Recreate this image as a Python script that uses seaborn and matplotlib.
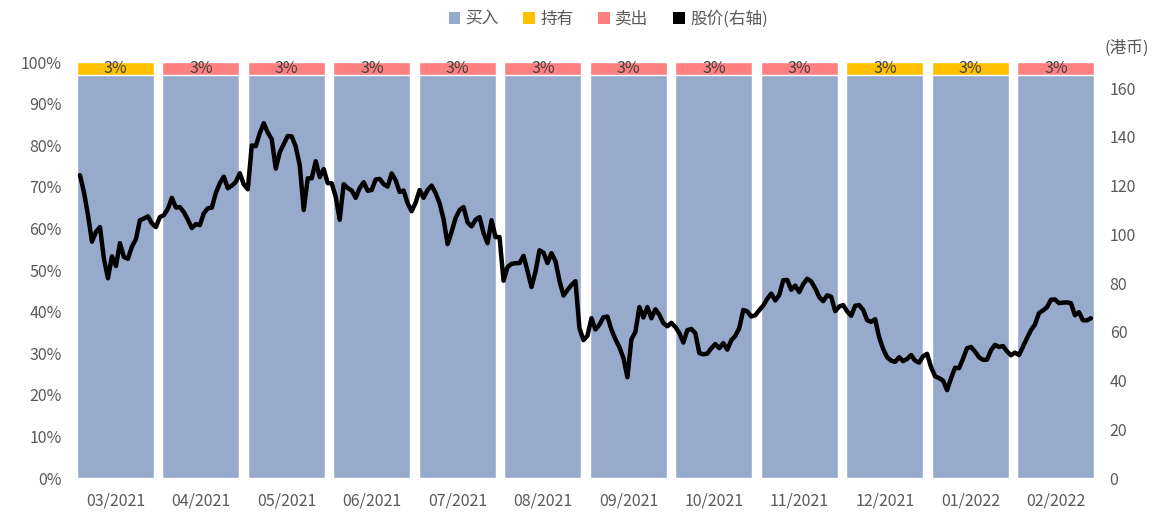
import numpy as np
import pandas as pd
import seaborn as sns
import matplotlib.pyplot as plt
from matplotlib.patches import Patch

# ======================================================
# DATA
# ======================================================
months = ['03/2021', '04/2021', '05/2021', '06/2021', '07/2021', '08/2021',
          '09/2021', '10/2021', '11/2021', '12/2021', '01/2022', '02/2022']
buy_pct = [0.97] * 12
other_pct = [0.03] * 12
other_type = ['持有', '卖出', '卖出', '卖出', '卖出', '卖出',
              '卖出', '卖出', '卖出', '持有', '持有', '卖出']

# daily close (HKD), 03/2021 -> 02/2022
price = [
    124.3, 117.3, 108.0, 97.0, 101.0, 103.0, 90.0, 82.0, 91.0, 87.0, 96.4,
    90.7, 90.0, 95.0, 98.0, 105.8, 106.5, 107.4, 104.5, 103.0, 107.1,
    107.9, 110.5, 115.0, 111.0, 111.2, 109.1, 106.0, 102.6, 104.2, 103.8,
    108.7, 110.7, 111.0, 117.0, 121.0, 123.7, 118.9, 120.0, 121.5, 125.1,
    120.5, 118.5, 136.5, 136.2, 141.5, 145.6, 141.8, 139.0, 127.0, 133.7,
    137.0, 140.4, 140.2, 136.0, 128.4, 110.0, 123.0, 123.0, 130.0, 123.5,
    126.8, 121.0, 121.0, 115.5, 106.0, 120.6, 119.0, 118.0, 115.0, 119.0,
    121.4, 117.9, 118.2, 122.5, 122.8, 120.6, 119.6, 125.0, 122.2, 117.4,
    118.0, 112.8, 109.5, 113.0, 118.2, 115.0, 118.2, 120.0, 117.0, 112.8,
    106.2, 96.0, 101.0, 106.7, 110.0, 111.2, 104.9, 103.3, 106.0, 107.1,
    100.6, 96.4, 105.8, 98.9, 98.9, 81.0, 86.6, 87.9, 88.2, 88.2,
    91.2, 85.0, 78.4, 84.7, 93.5, 92.5, 88.2, 92.3, 89.0, 81.0,
    74.9, 77.2, 79.2, 80.8, 61.5, 56.6, 58.4, 65.6, 61.0, 62.9,
    66.0, 66.3, 60.9, 57.0, 53.7, 49.3, 41.4, 56.9, 60.0, 70.2,
    65.9, 70.2, 65.6, 69.3, 67.0, 63.6, 62.3, 63.7, 62.0, 59.5,
    55.6, 60.7, 61.2, 59.5, 51.3, 50.8, 51.1, 53.3, 55.0, 53.3,
    55.4, 52.7, 56.6, 58.3, 61.6, 69.0, 68.4, 66.3, 66.8, 68.9,
    70.8, 73.6, 75.7, 72.9, 75.1, 81.2, 81.3, 77.3, 79.0, 76.3,
    79.6, 81.8, 80.7, 77.9, 74.3, 72.6, 75.0, 74.4, 68.5, 70.4,
    71.0, 68.4, 66.6, 70.7, 71.0, 69.0, 64.8, 64.1, 65.2, 57.8,
    53.0, 49.6, 48.2, 47.7, 49.6, 48.0, 48.9, 50.5, 48.2, 47.4,
    50.0, 51.0, 45.5, 41.8, 41.0, 40.0, 36.1, 41.0, 45.3, 45.1,
    49.0, 53.3, 53.8, 51.9, 49.6, 48.5, 48.6, 52.5, 54.7, 53.8,
    54.2, 52.0, 50.4, 51.5, 50.5, 54.0, 57.4, 60.7, 63.0, 67.7,
    68.8, 70.1, 73.2, 73.3, 71.8, 72.0, 72.1, 71.8, 66.8, 68.1,
    64.8, 64.7, 65.6,
]

COLORS = {'买入': '#98AACB', '持有': '#FFC000', '卖出': '#FF8080', '股价(右轴)': '#000000'}
GRAY = '#595959'

df = pd.DataFrame({'month': months, 'buy': buy_pct, 'other': other_pct, 'type': other_type})
df['total'] = df['buy'] + df['other']

# ======================================================
# PLOT
# ======================================================
sns.set_style("white")
plt.rcParams['font.family'] = ['Noto Sans CJK SC', 'DejaVu Sans']

fig = plt.figure(figsize=(11.54, 5.13), dpi=100)
ax = fig.add_axes([0.063, 0.068, 0.889, 0.811])

# stacked bars: full height coloured by top segment, then buy on top
sns.barplot(data=df, x='month', y='total', hue='type', palette=COLORS,
            dodge=False, width=0.9, legend=False, ax=ax, saturation=1)
sns.barplot(data=df, x='month', y='buy', color=COLORS['买入'],
            width=0.9, ax=ax, saturation=1)

for i, (b, o) in enumerate(zip(df['buy'], df['other'])):
    ax.text(i, b + o / 2, f"{o:.0%}", ha='center', va='center',
            fontsize=11.5, color='#404040')

ax.set_xlim(-0.5, 11.5)
ax.set_ylim(0, 1)
ax.set_yticks(np.arange(0, 1.01, 0.1))
ax.set_yticklabels([f"{int(round(v * 100))}%" for v in np.arange(0, 1.01, 0.1)])
ax.set_xlabel('')
ax.set_ylabel('')
ax.tick_params(axis='both', length=0, colors=GRAY, labelsize=11.5)
ax.tick_params(axis='x', pad=10)
ax.tick_params(axis='y', pad=8)
sns.despine(ax=ax, left=True, bottom=True)

# price line on right axis
ax2 = ax.twinx()
x_days = np.linspace(-0.415, 11.41, len(price))
sns.lineplot(x=x_days, y=price, color='black', linewidth=3.2, ax=ax2)
ax2.set_ylim(0, 170.7)
ax2.set_yticks(np.arange(0, 161, 20))
ax2.tick_params(axis='y', length=0, colors=GRAY, labelsize=11.5, pad=8)
ax2.set_ylabel('')
sns.despine(ax=ax2, left=True, bottom=True, right=True)
ax2.set_xlim(-0.5, 11.5)

# legend
handles = [Patch(facecolor=c, edgecolor='none', label=k) for k, c in COLORS.items()]
fig.legend(handles=handles, loc='center', bbox_to_anchor=(0.527, 0.963), ncol=4,
           frameon=False, fontsize=12, handlelength=0.7, handleheight=0.7,
           handletextpad=0.3, columnspacing=1.5, labelcolor=GRAY)
fig.text(0.996, 0.905, '(港币)', ha='right', va='center', fontsize=12, color=GRAY)

plt.savefig('out.png', dpi=100)
